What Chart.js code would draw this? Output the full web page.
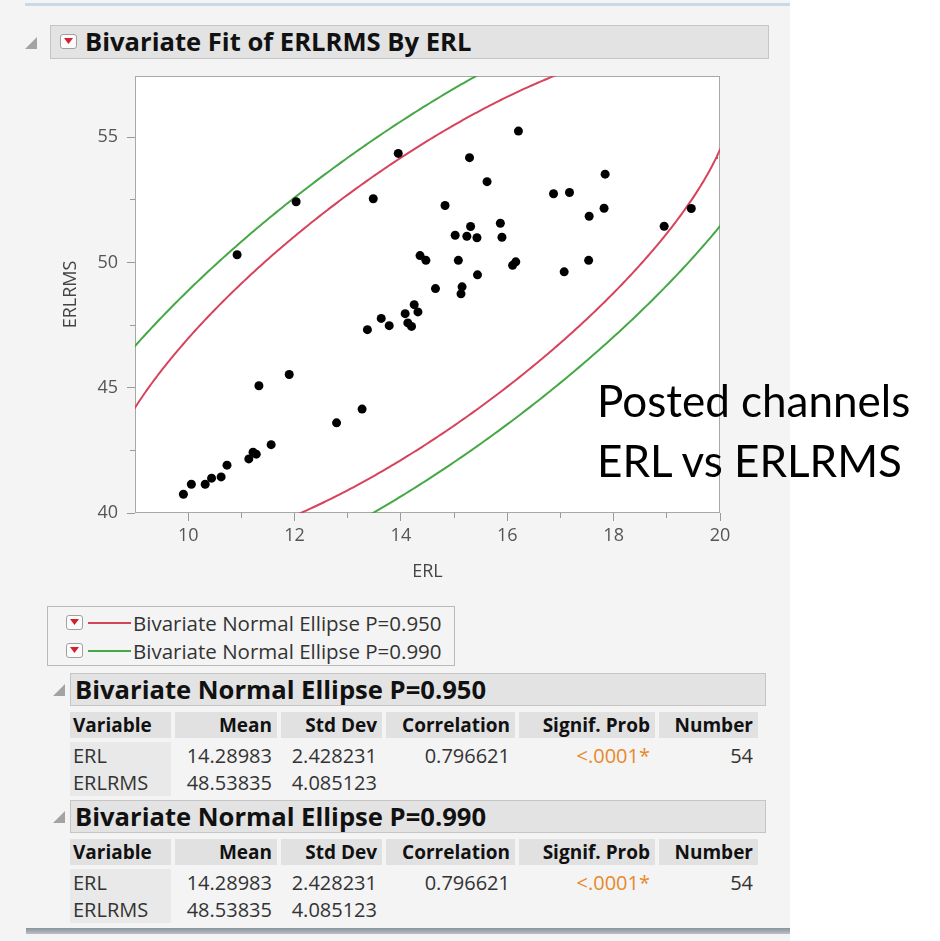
<!DOCTYPE html>
<html>
<head>
<meta charset="utf-8">
<script src="https://cdn.jsdelivr.net/npm/chart.js@4.4.1/dist/chart.umd.min.js"></script>
<style>
  body { margin: 0; width: 940px; height: 941px; overflow: hidden; background: #fff; font-family: "Open Sans", sans-serif; color: #222; }
  #jmp { position: absolute; left: 0; top: 0; width: 790px; height: 941px; background: #f4f4f4; }
  .abs { position: absolute; }
  .topline { left: 25px; top: 3px; width: 765px; height: 3px; background: #c9d9ea; }
  .tri { width: 12px; height: 12px; background: #a3a3a3; clip-path: polygon(100% 0, 100% 100%, 0 100%); }
  .bar { background: #e3e3e3; border: 1px solid #c5c5c5; box-sizing: border-box; font-weight: bold; font-size: 25.6px; color: #111; white-space: nowrap; }
  .pop { width: 17px; height: 15px; border: 1px solid #a0a0a0; border-radius: 3px; background: #fbfbfb; box-sizing: border-box; }
  .pop::after { content: ""; position: absolute; left: 3px; top: 3px; width: 9px; height: 6px; background: #d3202f; clip-path: polygon(0 0, 100% 0, 50% 100%); }
  #legend { left: 47px; top: 606px; width: 408px; height: 60px; border: 1px solid #b9b9b9; box-sizing: border-box; }
  .lgrow { position: absolute; left: 18px; height: 26px; font-size: 20.5px; line-height: 26px; color: #333; white-space: nowrap; }
  .lgline { position: absolute; left: 22px; top: 12px; width: 43px; height: 2px; }
  .lgtext { position: absolute; left: 67px; top: 0; }
  .grid { position: absolute; left: 70px; display: grid; grid-template-columns: 101px 102px 101px 129px 136px 99px; column-gap: 4px; white-space: nowrap; }
  .th { background: #e1e1e1; height: 26px; line-height: 26px; font-weight: bold; font-size: 19px; text-align: right; padding-right: 5px; box-sizing: border-box; color: #111; }
  .td { line-height: 27px; font-size: 20px; text-align: right; padding-right: 5px; box-sizing: border-box; color: #333; }
  .th.var, .td.var { text-align: left; padding-left: 3px; }
  .td.var { background: #e9e9e9; }
  .orange { color: #e8892b; }
  .bottombar { left: 26px; top: 928px; width: 764px; height: 6px; background: linear-gradient(#8b929a, #b9bfc6); }
  #note { left: 597px; top: 370px; font-family: Lato, sans-serif; font-size: 44px; line-height: 60px; color: #000; white-space: nowrap; }
</style>
</head>
<body>
<div id="jmp">
  <div class="abs topline"></div>
  <div class="abs tri" style="left:25px; top:37px;"></div>
  <div class="abs bar" style="left:50px; top:25px; width:719px; height:34px;">
    <div class="abs pop" style="left:9px; top:8px;"></div>
    <div class="abs" style="left:34px; top:0; line-height:32px;">Bivariate Fit of ERLRMS By ERL</div>
  </div>
  <canvas id="chart" class="abs" width="790" height="600" style="left:0; top:0;"></canvas>
  <div id="legend" class="abs"></div>
  <div id="tables"></div>
  <div class="abs bottombar"></div>
</div>
<div id="note" class="abs">Posted channels<br>ERL vs ERLRMS</div>

<script>
// data points
const erl = [9.91, 10.06, 10.32, 10.44, 10.62, 10.73, 11.14, 11.22, 11.28, 11.56,
  11.33, 11.90, 12.79, 13.27, 13.37, 13.63, 13.78, 14.08, 14.13, 14.20,
  14.25, 14.32, 14.65, 15.08, 15.44, 15.15, 15.13, 14.36, 14.47, 16.10,
  16.16, 13.95, 13.48, 15.29, 15.62, 14.83, 16.21, 15.31, 15.87, 15.02,
  15.24, 15.43, 15.90, 17.84, 16.87, 17.17, 17.82, 17.54, 17.53, 17.07,
  18.95, 19.46, 10.92, 12.03];
const erlrms = [40.75, 41.15, 41.15, 41.39, 41.44, 41.91, 42.16, 42.43, 42.35, 42.73,
  45.08, 45.53, 43.60, 44.15, 47.32, 47.77, 47.48, 47.96, 47.59, 47.45,
  48.32, 48.03, 48.96, 50.09, 49.51, 49.03, 48.75, 50.28, 50.09, 49.89,
  50.03, 54.36, 52.55, 54.19, 53.23, 52.28, 55.25, 51.44, 51.57, 51.09,
  51.05, 50.99, 51.01, 53.53, 52.75, 52.80, 52.17, 51.85, 50.09, 49.63,
  51.45, 52.16, 50.31, 52.43];

const xTicks = [10, 12, 14, 16, 18, 20];
const xMinorTicks = [11, 13, 15, 17, 19];
const yTicks = [40, 45, 50, 55];
const yMinorTicks = [42.5, 47.5, 52.5];

// summary table values
const varNames = ["ERL", "ERLRMS"];
const means = [14.28983, 48.53835];
const stdDevs = [2.428231, 4.085123];
const correlation = 0.796621;
const signifProb = "<.0001*";
const count = 54;

// ellipse levels, chi-square (2 df) quantiles, colours
const ellipseLabels = ["0.950", "0.990"];
const chiSquare = [5.991, 9.21];
const ellipseColors = ["#d6435a", "#45a845"];

// ellipse outline from the mean / std dev / correlation in the table
function ellipsePoints(c2) {
  const c = Math.sqrt(c2);
  const s = Math.sqrt(1 - correlation * correlation);
  const pts = [];
  for (let i = 0; i <= 720; i++) {
    const t = (i * Math.PI) / 360;
    pts.push({
      x: means[0] + stdDevs[0] * c * Math.cos(t),
      y: means[1] + stdDevs[1] * c * (correlation * Math.cos(t) + s * Math.sin(t)),
    });
  }
  return pts;
}

const tickFont = { family: "Open Sans", size: 18 };

// white plot area with a grey frame
const frame = {
  id: "frame",
  beforeDatasetsDraw(chart) {
    const { ctx, chartArea: a } = chart;
    ctx.save();
    ctx.fillStyle = "#fff";
    ctx.fillRect(a.left, a.top, a.width, a.height);
    ctx.strokeStyle = "#a8a8a8";
    ctx.lineWidth = 1;
    ctx.strokeRect(a.left + 0.5, a.top + 0.5, a.width - 1, a.height - 1);
    ctx.restore();
  },
};

const datasets = [
  {
    label: "points",
    data: erl.map((x, i) => ({ x, y: erlrms[i] })),
    backgroundColor: "#000",
    borderColor: "#000",
    pointRadius: 4.5,
    pointBorderWidth: 0,
  },
];
ellipseLabels.forEach((p, i) => {
  datasets.push({
    label: "Bivariate Normal Ellipse P=" + p,
    data: ellipsePoints(chiSquare[i]),
    showLine: true,
    borderColor: ellipseColors[i],
    borderWidth: 2,
    pointRadius: 0,
    tension: 0,
    clip: 0,
  });
});

const chart = new Chart(document.getElementById("chart").getContext("2d"), {
  type: "scatter",
  data: { datasets },
  plugins: [frame],
  options: {
    responsive: false,
    animation: false,
    events: [],
    layout: { padding: { left: 0, top: 76, right: 70, bottom: 0 } },
    plugins: { legend: { display: false }, tooltip: { enabled: false } },
    scales: {
      x: {
        type: "linear",
        min: 9,
        max: 20,
        afterBuildTicks: (s) => { s.ticks = xTicks.map((v) => ({ value: v })); },
        afterFit: (s) => { s.height = 87; },
        grid: { drawOnChartArea: false, tickLength: 8, tickColor: "#9a9a9a" },
        border: { display: false },
        ticks: { color: "#555", font: tickFont, padding: 4, autoSkip: false, maxRotation: 0 },
        title: { display: true, text: "ERL", color: "#444", font: tickFont, padding: { top: 0, bottom: 17 } },
      },
      y: {
        type: "linear",
        min: 40,
        max: 57.45,
        afterBuildTicks: (s) => { s.ticks = yTicks.map((v) => ({ value: v })); },
        afterFit: (s) => { s.width = 135; },
        grid: { drawOnChartArea: false, tickLength: 8, tickColor: "#9a9a9a" },
        border: { display: false },
        ticks: { color: "#555", font: tickFont, padding: 9, autoSkip: false },
        title: { display: true, text: "ERLRMS", color: "#444", font: tickFont, padding: { top: 60, bottom: 0 } },
      },
      xMinor: {
        type: "linear",
        axis: "x",
        position: { y: 40 },
        min: 9,
        max: 20,
        afterBuildTicks: (s) => { s.ticks = xMinorTicks.map((v) => ({ value: v })); },
        grid: { drawOnChartArea: false, tickLength: 5, tickColor: "#9a9a9a" },
        border: { display: false },
        ticks: { display: false },
      },
      yMinor: {
        type: "linear",
        axis: "y",
        position: { x: 9 },
        min: 40,
        max: 57.45,
        afterBuildTicks: (s) => { s.ticks = yMinorTicks.map((v) => ({ value: v })); },
        grid: { drawOnChartArea: false, tickLength: 5, tickColor: "#9a9a9a" },
        border: { display: false },
        ticks: { display: false },
      },
    },
  },
});

// legend below the plot
const legend = document.getElementById("legend");
ellipseLabels.forEach((p, i) => {
  const row = document.createElement("div");
  row.className = "lgrow";
  row.style.top = 3 + i * 28 + "px";
  row.innerHTML = `<div class="abs pop" style="left:0; top:5px;"></div>
    <div class="lgline" style="background:${ellipseColors[i]}"></div>
    <div class="lgtext">Bivariate Normal Ellipse P=${p}</div>`;
  legend.appendChild(row);
});

// summary tables, one for each ellipse level
const tables = document.getElementById("tables");
ellipseLabels.forEach((p, i) => {
  const top = 673 + i * 127;
  tables.insertAdjacentHTML("beforeend", `
    <div class="abs tri" style="left:53px; top:${top + 11}px;"></div>
    <div class="abs bar" style="left:70px; top:${top}px; width:696px; height:33px;">
      <div class="abs" style="left:4px; top:0; line-height:31px;">Bivariate Normal Ellipse P=${p}</div>
    </div>
    <div class="grid" style="top:${top + 39}px;">
      <div class="th var">Variable</div><div class="th">Mean</div><div class="th">Std Dev</div>
      <div class="th">Correlation</div><div class="th">Signif. Prob</div><div class="th">Number</div>
    </div>
    <div class="grid" style="top:${top + 69}px;">
      <div class="td var">${varNames.join("<br>")}</div>
      <div class="td">${means.join("<br>")}</div>
      <div class="td">${stdDevs.join("<br>")}</div>
      <div class="td">${correlation}</div>
      <div class="td orange">${signifProb.replace("<", "&lt;")}</div>
      <div class="td">${count}</div>
    </div>`);
});
</script>
</body>
</html>
